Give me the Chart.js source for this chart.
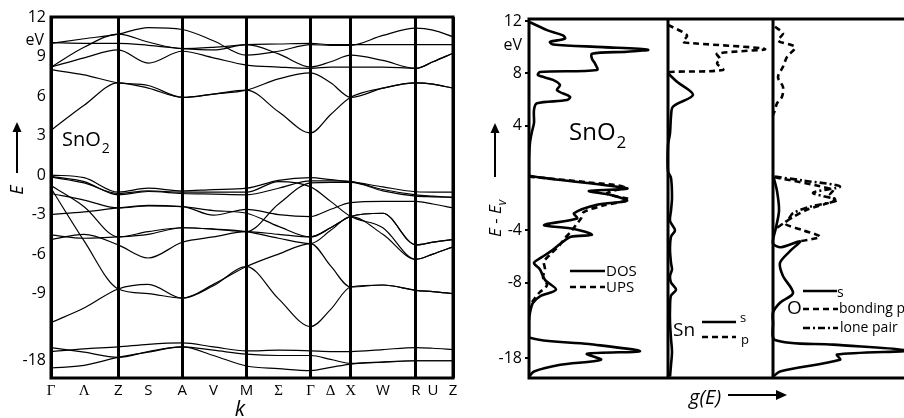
<!DOCTYPE html>
<html>
<head>
<meta charset="utf-8">
<script src="https://cdn.jsdelivr.net/npm/chart.js@4"></script>
<style>
  body { margin: 0; background: #fff; width: 904px; height: 418px; overflow: hidden; position: relative; }
  canvas { position: absolute; top: 0; }
  #bands { left: 0; }
  #dos { left: 460px; }
</style>
</head>
<body>
<canvas id="bands" width="465" height="418"></canvas>
<canvas id="dos" width="444" height="418"></canvas>
<script>
// k-path (path length units) and labels
const kPos = [0, 33, 67, 97, 131, 162, 195, 227, 259, 279, 299, 331, 364, 381, 401];
const kLabels = ['Γ', 'Λ', 'Z', 'S', 'A', 'V', 'M', 'Σ', 'Γ', 'Δ', 'X', 'W', 'R', 'U', 'Z'];
const kVertex = [1, 0, 1, 0, 1, 0, 1, 0, 1, 0, 1, 0, 1, 0, 1];
const serifLabels = ['Γ', 'Λ', 'Σ', 'Δ', 'X'];

// band energies (eV) at each k point
const conduction = [
    [3.4, 5.3, 7.0, 6.6, 5.9, 6.15, 6.45, 4.8, 3.2, 4.6, 5.9, 6.6, 7.0, 6.9, 6.6],
    [8.0, 7.6, 7.0, 6.8, 5.9, 6.15, 6.45, 7.3, 7.75, 7.0, 5.9, 6.6, 7.0, 6.9, 6.6],
    [10.0, 10.35, 10.7, 11.2, 11.05, 10.2, 9.1, 9.4, 9.9, 9.85, 9.85, 10.6, 11.15, 11.0, 10.5],
    [8.2, 9.7, 10.7, 10.1, 9.6, 9.7, 9.9, 9.95, 10.0, 9.9, 9.9, 9.9, 9.9, 9.9, 9.9],
    [10.05, 10.0, 10.0, 9.85, 9.6, 9.5, 9.9, 9.2, 8.2, 8.6, 9.1, 8.7, 8.1, 8.6, 9.25],
    [8.2, 8.9, 9.5, 8.5, 9.4, 8.9, 8.35, 8.2, 8.1, 8.2, 8.2, 8.2, 8.1, 8.6, 9.25]
];
const valence = [
    [0.0, -0.2, -1.3, -1.0, -1.2, -1.1, -1.0, -0.4, -0.2, -0.35, -0.5, -0.9, -1.27, -1.3, -1.3],
    [-0.1, -0.5, -1.5, -1.25, -1.4, -1.45, -1.5, -1.0, -0.45, -0.45, -0.5, -1.1, -1.5, -1.6, -1.7],
    [-0.8, -2.4, -4.7, -4.3, -4.0, -4.1, -4.3, -2.2, -0.6, -0.55, -0.55, -1.2, -1.6, -1.65, -1.7],
    [-1.0, -5.0, -8.65, -9.0, -9.35, -8.3, -6.95, -6.0, -5.2, -6.9, -8.5, -8.35, -8.75, -8.85, -9.0],
    [-1.4, -1.9, -2.5, -2.35, -2.4, -3.05, -2.6, -3.0, -3.15, -2.6, -2.1, -2.0, -2.0, -2.2, -2.5],
    [-3.0, -2.8, -2.5, -2.3, -2.4, -2.7, -2.9, -3.9, -4.7, -4.0, -3.15, -2.9, -5.3, -5.1, -4.9],
    [-4.55, -4.8, -4.7, -4.5, -4.0, -4.1, -4.3, -4.8, -5.2, -4.2, -3.15, -4.5, -6.4, -6.0, -5.45],
    [-4.9, -4.5, -5.3, -6.3, -5.1, -4.7, -4.3, -4.5, -4.7, -4.0, -3.15, -2.9, -5.3, -5.1, -4.9],
    [-11.2, -10.1, -8.65, -8.3, -9.35, -8.4, -6.95, -9.4, -11.5, -10.2, -8.5, -8.35, -8.75, -8.85, -9.0],
    [-0.15, -0.6, -1.4, -1.2, -1.3, -1.3, -1.3, -0.5, -0.9, -2.0, -3.15, -4.0, -6.4, -6.0, -5.45]
];
const semicore = [
    [-17.3, -17.1, -16.95, -16.75, -16.65, -16.95, -17.25, -17.2, -17.25, -17.3, -17.3, -17.15, -17.0, -17.05, -17.15],
    [-17.0, -17.35, -17.75, -17.3, -16.95, -17.2, -17.5, -17.6, -17.6, -17.9, -18.2, -18.1, -18.0, -18.0, -18.0],
    [-18.55, -18.35, -17.75, -17.35, -16.95, -17.6, -18.4, -18.6, -18.75, -18.5, -18.25, -18.1, -18.0, -18.0, -18.0]
];
const bandTicks = [12, 9, 6, 3, 0, -3, -6, -9, -18];

// densities of states: [g (arb. units), E (eV)]
const dosTotal = [
    [1, 11.9], [18, 11.3], [34, 10.9], [36, 10.65], [21, 10.4], [24, 10.2], [74, 10.0], [119, 9.8],
    [98, 9.65], [63, 9.5], [63, 9.1], [66, 8.75], [68, 8.25], [11, 8.1], [9, 7.85], [24, 7.5],
    [31, 7.1], [28, 6.7], [41, 6.2], [38, 5.95], [8, 5.7], [5, 5.2], [5, 4.2], [3, 3.55], [1, 2.7],
    [0, 1.5], [0, 0.4], [1, 0.15], [98, -0.8], [60, -1.0], [82, -1.3], [98, -1.75], [68, -2.05],
    [45, -2.7], [48, -3.1], [15, -3.6], [45, -3.9], [63, -4.35], [42, -4.5], [32, -5.0], [22, -5.6],
    [12, -6.1], [5, -6.5], [11, -7.0], [16, -7.8], [27, -8.55], [11, -9.05], [4, -9.55], [1, -10.3],
    [0, -11], [0, -16.4], [60, -16.9], [111, -17.45], [58, -17.65], [72, -18.1], [30, -18.5],
    [5, -19.0], [0, -19.4]
];
const dosUps = [
    [0, 0.1], [60, -0.35], [95, -0.7], [78, -1.2], [100, -1.65], [75, -2.1], [55, -2.6], [52, -3.1],
    [47, -3.6], [42, -4.1], [36, -4.6], [30, -5.2], [22, -5.8], [15, -6.4], [16, -7.0], [14, -7.6],
    [18, -8.2], [10, -8.8], [4, -9.4], [0, -9.9]
];
const snP = [
    [0, 11.7], [19, 10.9], [15, 10.4], [25, 10.3], [97, 9.85], [49, 9.5], [52, 9.1], [49, 8.75],
    [55, 8.25], [2, 8.1], [0, 8.0]
];
const snS = [
    [0, 8.0], [9, 7.35], [25, 6.35], [5, 5.45], [3, 4.7], [2, 3.4], [0, 2.5], [0, 0.5], [3, 0],
    [4, -1.5], [3, -2.5], [2, -3.3], [7, -4.0], [3, -4.5], [2, -5.5], [3, -6.5], [4, -7.0], [2, -7.5],
    [3, -8.0], [8, -8.55], [3, -9.0], [2, -10.0], [2, -11], [3, -16.5], [4, -17.5], [3, -18.5], [2, -19.4]
];
const oBonding = [
    [2, 11.55], [10, 11.05], [5, 10.5], [22, 10.0], [14, 9.25], [10, 8.5], [5, 7.7], [10, 6.95],
    [9, 6.2], [4, 5.7], [2, 5.2], [0, 4.8]
];
const oBondingVb = [
    [2, 0.05], [60, -0.9], [57, -1.3], [62, -1.7], [35, -2.4], [20, -3.0], [12, -3.5], [30, -4.0],
    [47, -4.5], [27, -4.85]
];
const oLonePair = [
    [2, 0.1], [30, -0.2], [67, -0.66], [40, -1.15], [64, -1.7], [37, -2.2], [20, -2.7], [15, -3.2],
    [8, -3.6], [0, -4.0]
];
const oS = [
    [0, 0.2], [4, -1.0], [6, -2.5], [3, -3.8], [0, -5.0], [8, -5.3], [27, -4.85], [17, -5.6],
    [7, -6.5], [10, -7.5], [20, -8.8], [7, -9.55], [0, -10.3], [0, -11], [2, -16.6], [60, -16.95],
    [135, -17.4], [64, -17.7], [67, -18.1], [7, -19.0], [0, -19.4]
];
const dosTicks = [12, 8, 4, -4, -8, -18];
const panelStart = [0, 139, 244];

// energy axis is broken below -12 eV
function brk(e, shift) {
    return e < -12 ? e + shift : e;
}

Chart.defaults.font.family = "'Open Sans', sans-serif";
Chart.defaults.color = '#000';

function arrowUp(ctx, x, y0, y1) {
    ctx.beginPath();
    ctx.moveTo(x, y0);
    ctx.lineTo(x, y1 + 6);
    ctx.stroke();
    ctx.beginPath();
    ctx.moveTo(x, y1);
    ctx.lineTo(x - 4.5, y1 + 10);
    ctx.lineTo(x + 4.5, y1 + 10);
    ctx.closePath();
    ctx.fill();
}

function sampleLine(ctx, x0, x1, y, dash) {
    ctx.save();
    ctx.setLineDash(dash);
    ctx.lineWidth = 2.4;
    ctx.beginPath();
    ctx.moveTo(x0, y);
    ctx.lineTo(x1, y);
    ctx.stroke();
    ctx.restore();
}

// ---------- band structure ----------
const bandDatasets = [...conduction, ...valence, ...semicore].map(b => ({
    data: b.map((e, i) => ({ x: kPos[i], y: brk(e, 3.9) })),
    showLine: true,
    borderColor: '#000',
    borderWidth: 1.2,
    pointRadius: 0,
    cubicInterpolationMode: 'monotone'
}));

const bandsDecor = {
    id: 'bandsDecor',
    afterDraw(chart) {
        const { ctx, chartArea: a } = chart;
        ctx.save();
        ctx.strokeStyle = '#000';
        ctx.fillStyle = '#000';
        ctx.lineWidth = 3;
        ctx.strokeRect(a.left, a.top, a.right - a.left, a.bottom - a.top);

        ctx.font = "16px 'Open Sans'";
        ctx.textAlign = 'right';
        ctx.textBaseline = 'middle';
        ctx.fillText('eV', 44, 40);

        ctx.textAlign = 'left';
        ctx.textBaseline = 'alphabetic';
        ctx.font = "20px 'Open Sans'";
        ctx.fillText('SnO', 62, 146);
        const w = ctx.measureText('SnO').width;
        ctx.font = "14px 'Open Sans'";
        ctx.fillText('2', 62 + w + 1, 153);

        ctx.lineWidth = 2;
        arrowUp(ctx, 17, 173, 122);
        ctx.save();
        ctx.translate(23, 190);
        ctx.rotate(-Math.PI / 2);
        ctx.font = "italic 18px 'Open Sans'";
        ctx.textAlign = 'center';
        ctx.fillText('E', 0, 0);
        ctx.restore();

        ctx.font = "italic 21px 'Open Sans'";
        ctx.textAlign = 'center';
        ctx.fillText('k', 240, 416);
        ctx.restore();
    }
};

new Chart(document.getElementById('bands'), {
    type: 'scatter',
    data: { datasets: bandDatasets },
    options: {
        responsive: false,
        animation: false,
        layout: { padding: { top: 17, right: 12, left: 0, bottom: 0 } },
        plugins: { legend: { display: false }, tooltip: { enabled: false } },
        scales: {
            x: {
                type: 'linear',
                min: 0,
                max: 401,
                afterBuildTicks: s => { s.ticks = kPos.map(v => ({ value: v })); },
                afterFit: s => { s.height = 40; },
                border: { display: false },
                grid: {
                    drawTicks: false,
                    lineWidth: 3,
                    color: c => kVertex[c.index] ? '#000' : 'rgba(0,0,0,0)'
                },
                ticks: {
                    autoSkip: false,
                    maxRotation: 0,
                    padding: 4,
                    callback: (v, i) => kLabels[i],
                    font: c => ({
                        family: serifLabels.includes(kLabels[c.index]) ? "'Liberation Serif', serif" : "'Open Sans', sans-serif",
                        size: 15
                    })
                }
            },
            y: {
                min: -15.41,
                max: 12.0,
                afterBuildTicks: s => { s.ticks = bandTicks.map(v => ({ value: brk(v, 3.9) })); },
                afterFit: s => { s.width = 51; },
                border: { display: false },
                grid: { display: false, drawTicks: false },
                ticks: {
                    padding: 5,
                    font: { size: 16 },
                    callback: (v, i) => String(bandTicks[i])
                }
            }
        }
    },
    plugins: [bandsDecor]
});

// ---------- densities of states ----------
function dosSet(pts, panel, dash) {
    return {
        data: pts.map(p => ({ x: p[0] + panelStart[panel], y: brk(p[1], 4.2) })),
        showLine: true,
        borderColor: '#000',
        borderWidth: 2.6,
        borderDash: dash,
        pointRadius: 0,
        tension: 0.3
    };
}

const dosDatasets = [
    dosSet(dosTotal, 0, []),
    dosSet(dosUps, 0, [6, 4]),
    dosSet(snP, 1, [6, 4]),
    dosSet(snS, 1, []),
    dosSet(oBonding, 2, [6, 4]),
    dosSet(oBondingVb, 2, [6, 4]),
    dosSet(oLonePair, 2, [7, 3, 2, 3]),
    dosSet(oS, 2, [])
];

const dosDecor = {
    id: 'dosDecor',
    afterDraw(chart) {
        const { ctx, chartArea: a, scales } = chart;
        ctx.save();
        ctx.strokeStyle = '#000';
        ctx.fillStyle = '#000';
        ctx.lineWidth = 3;
        ctx.beginPath();
        ctx.moveTo(a.right, a.top);
        ctx.lineTo(a.left, a.top);
        ctx.lineTo(a.left, a.bottom);
        ctx.lineTo(a.right, a.bottom);
        panelStart.slice(1).forEach(p => {
            const x = scales.x.getPixelForValue(p);
            ctx.moveTo(x, a.top);
            ctx.lineTo(x, a.bottom);
        });
        ctx.stroke();

        ctx.font = "16px 'Open Sans'";
        ctx.textAlign = 'right';
        ctx.textBaseline = 'middle';
        ctx.fillText('eV', 62, 45);

        ctx.textAlign = 'left';
        ctx.textBaseline = 'alphabetic';
        ctx.font = "24px 'Open Sans'";
        ctx.fillText('SnO', 109, 140);
        const w = ctx.measureText('SnO').width;
        ctx.font = "17px 'Open Sans'";
        ctx.fillText('2', 109 + w + 1, 148);

        // axis titles
        ctx.lineWidth = 2;
        arrowUp(ctx, 35, 177, 123);
        ctx.save();
        ctx.translate(41, 237);
        ctx.rotate(-Math.PI / 2);
        ctx.font = "italic 17px 'Open Sans'";
        ctx.textAlign = 'left';
        ctx.fillText('E - E', 0, 0);
        const we = ctx.measureText('E - E').width;
        ctx.font = "italic 12px 'Open Sans'";
        ctx.fillText('v', we, 5);
        ctx.restore();

        ctx.font = "italic 20px 'Open Sans'";
        ctx.fillText('g(E)', 229, 404);
        ctx.beginPath();
        ctx.moveTo(268, 395);
        ctx.lineTo(318, 395);
        ctx.stroke();
        ctx.beginPath();
        ctx.moveTo(327, 395);
        ctx.lineTo(316, 390);
        ctx.lineTo(316, 400);
        ctx.closePath();
        ctx.fill();

        // legends
        ctx.textBaseline = 'middle';
        ctx.font = "15px 'Open Sans'";
        sampleLine(ctx, 110, 145, 271, []);
        ctx.fillText('DOS', 146, 272);
        sampleLine(ctx, 110, 145, 287, [6, 4]);
        ctx.fillText('UPS', 146, 288);

        ctx.font = "19px 'Open Sans'";
        ctx.fillText('Sn', 213, 331);
        sampleLine(ctx, 242, 276, 322, []);
        sampleLine(ctx, 242, 276, 337, [6, 4]);
        ctx.font = "13px 'Open Sans'";
        ctx.fillText('s', 280, 318);
        ctx.fillText('p', 281, 340);

        ctx.font = "19px 'Open Sans'";
        ctx.fillText('O', 327, 309);
        sampleLine(ctx, 343, 377, 291, []);
        sampleLine(ctx, 343, 378, 309, [6, 4]);
        sampleLine(ctx, 343, 378, 328, [7, 3, 2, 3]);
        ctx.font = "14px 'Open Sans'";
        ctx.fillText('s', 377, 293);
        ctx.fillText('bonding p', 379, 309);
        ctx.fillText('lone pair', 380, 328);
        ctx.restore();
    }
};

new Chart(document.getElementById('dos'), {
    type: 'scatter',
    data: { datasets: dosDatasets },
    options: {
        responsive: false,
        animation: false,
        layout: { padding: { top: 19, right: 0, left: 0, bottom: 40 } },
        plugins: { legend: { display: false }, tooltip: { enabled: false } },
        scales: {
            x: { type: 'linear', min: 0, max: 375, display: false },
            y: {
                min: -15.3,
                max: 12.15,
                afterBuildTicks: s => { s.ticks = dosTicks.map(v => ({ value: brk(v, 4.2) })); },
                afterFit: s => { s.width = 69; },
                border: { display: false },
                grid: { drawOnChartArea: false, drawTicks: true, tickLength: 4, lineWidth: 2, color: '#000' },
                ticks: {
                    padding: 3,
                    font: { size: 16 },
                    callback: (v, i) => String(dosTicks[i])
                }
            }
        }
    },
    plugins: [dosDecor]
});
</script>
</body>
</html>
